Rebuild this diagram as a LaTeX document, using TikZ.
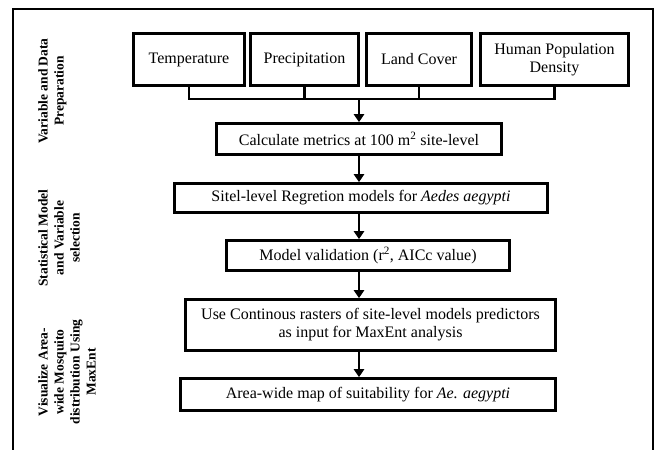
\documentclass[tikz,border=0pt]{standalone}
\usepackage{fontspec}
\setmainfont{Liberation Serif}
\usetikzlibrary{arrows.meta}
\begin{document}
\begin{tikzpicture}[x=1pt,y=-1pt,line join=miter,font=\fontsize{16}{18}\selectfont,
  box/.style={draw,line width=2.6pt,align=center,inner sep=2pt},
  lab/.style={rotate=90,anchor=north,align=center,inner sep=0pt,font=\fontsize{13.5}{16}\selectfont\bfseries},
  link/.style={line width=2.6pt},
  arr/.style={-{Triangle[width=10pt,length=8pt]},line width=2.6pt}]
	\useasboundingbox (0,0) rectangle (657,450);
	\draw[line width=2pt] (13,450) -- (13,9) -- (653,9) -- (653,450);
	\node[lab] (lvar) at (38,91) {Variable and Data\\Preparation};
	\node[lab] (lstat) at (38,238) {Statistical Model\\and Variable\\selection};
	\node[lab] (lvis) at (38,372) {Visualize Area-\\wide Mosquito\\distribution Using\\MaxEnt};
	\node[box,minimum width=111pt,minimum height=52pt] (temp) at (189,59.5) {Temperature};
	\node[box,minimum width=108pt,minimum height=52pt] (prec) at (304.5,59.5) {Precipitation};
	\node[box,minimum width=105pt,minimum height=52pt] (land) at (419,59.5) {Land Cover};
	\node[box,minimum width=148pt,minimum height=52pt] (human) at (554.5,59.5) {Human Population\\Density};
	\node[box,minimum width=285pt,minimum height=31pt] (calc) at (359,139) {Calculate metrics at 100 m\textsuperscript{2} site-level};
	\node[box,minimum width=373pt,minimum height=29pt] (sitel) at (361,198) {Sitel-level Regretion models for \textit{Aedes aegypti}};
	\node[box,minimum width=283pt,minimum height=30pt] (valid) at (368,255.5) {Model validation (r\textsuperscript{2}, AICc value)};
	\node[box,minimum width=370pt,minimum height=51pt] (use) at (370.5,325) {Use Continous rasters of site-level models predictors\\as input for MaxEnt analysis};
	\node[box,minimum width=375pt,minimum height=32pt] (area) at (368,394.5) {Area-wide map of suitability for \textit{Ae. aegypti}};
	\coordinate (bar) at (0,99);
	\draw[link] (temp.south) -- (temp.south |- bar) -- (human.south |- bar) -- (human.south);
	\draw[link] (prec.south) -- (prec.south |- bar);
	\draw[link] (land.south) -- (land.south |- bar);
	\draw[arr] (calc.north |- bar) -- (calc.north);
	\draw[arr] (calc.south) -- (calc.south |- sitel.north);
	\draw[arr] (calc.south |- sitel.south) -- (calc.south |- valid.north);
	\draw[arr] (calc.south |- valid.south) -- (calc.south |- use.north);
	\draw[arr] (calc.south |- use.south) -- (calc.south |- area.north);
\end{tikzpicture}
\end{document}
